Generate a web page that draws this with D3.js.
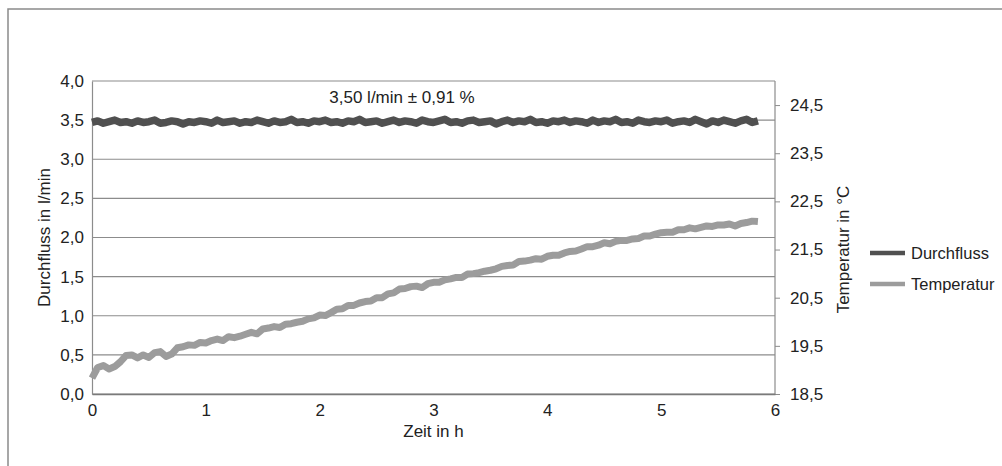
<!DOCTYPE html>
<html><head><meta charset="utf-8">
<script src="https://cdn.jsdelivr.net/npm/d3@7"></script>
<style>
html,body{margin:0;padding:0;background:#fff;}
svg{display:block;font-family:"Liberation Sans",Arial,sans-serif;}
</style></head>
<body>
<svg id="c" width="1002" height="466"></svg>
<script>
const timeH = [0,0.05,0.1,0.15,0.2,0.25,0.3,0.35,0.4,0.45,0.5,0.55,0.6,0.65,0.7,0.75,0.8,0.85,0.9,0.95,
1,1.05,1.1,1.15,1.2,1.25,1.3,1.35,1.4,1.45,1.5,1.55,1.6,1.65,1.7,1.75,1.8,1.85,1.9,1.95,
2,2.05,2.1,2.15,2.2,2.25,2.3,2.35,2.4,2.45,2.5,2.55,2.6,2.65,2.7,2.75,2.8,2.85,2.9,2.95,
3,3.05,3.1,3.15,3.2,3.25,3.3,3.35,3.4,3.45,3.5,3.55,3.6,3.65,3.7,3.75,3.8,3.85,3.9,3.95,
4,4.05,4.1,4.15,4.2,4.25,4.3,4.35,4.4,4.45,4.5,4.55,4.6,4.65,4.7,4.75,4.8,4.85,4.9,4.95,
5,5.05,5.1,5.15,5.2,5.25,5.3,5.35,5.4,5.45,5.5,5.55,5.6,5.65,5.7,5.75,5.8,5.85];

const durchfluss = [3.47,3.49,3.46,3.48,3.50,3.47,3.48,3.46,3.49,3.47,3.48,3.50,3.46,3.47,3.49,3.48,3.45,3.48,3.47,3.49,
3.48,3.46,3.50,3.47,3.48,3.49,3.46,3.48,3.47,3.50,3.48,3.46,3.49,3.47,3.48,3.51,3.47,3.48,3.46,3.49,
3.48,3.50,3.47,3.48,3.46,3.49,3.48,3.51,3.47,3.48,3.49,3.46,3.48,3.50,3.47,3.49,3.48,3.46,3.50,3.48,
3.47,3.49,3.51,3.47,3.48,3.46,3.49,3.50,3.47,3.48,3.49,3.45,3.48,3.50,3.47,3.49,3.48,3.51,3.47,3.48,
3.46,3.49,3.48,3.50,3.47,3.49,3.48,3.46,3.50,3.47,3.49,3.48,3.51,3.47,3.48,3.46,3.50,3.48,3.47,3.49,
3.48,3.50,3.46,3.48,3.49,3.47,3.51,3.48,3.45,3.49,3.47,3.50,3.48,3.46,3.49,3.51,3.47,3.49];

const temperatur = [18.83,19.05,19.09,19.02,19.07,19.17,19.30,19.31,19.25,19.31,19.26,19.36,19.38,19.28,19.33,19.46,19.48,19.52,19.51,19.57,
19.56,19.61,19.64,19.61,19.69,19.67,19.70,19.74,19.78,19.75,19.85,19.87,19.90,19.88,19.95,19.96,19.99,20.01,20.06,20.08,
20.14,20.13,20.19,20.26,20.27,20.34,20.34,20.39,20.42,20.43,20.50,20.50,20.58,20.60,20.68,20.69,20.73,20.74,20.71,20.79,
20.82,20.82,20.87,20.89,20.92,20.92,20.99,21.00,21.02,21.05,21.07,21.10,21.15,21.17,21.18,21.25,21.26,21.28,21.31,21.30,
21.36,21.38,21.38,21.43,21.46,21.47,21.51,21.56,21.56,21.59,21.64,21.62,21.67,21.69,21.69,21.72,21.73,21.78,21.78,21.82,
21.85,21.86,21.86,21.91,21.91,21.95,21.93,21.96,21.99,21.98,22.01,22.01,22.03,21.99,22.04,22.06,22.09,22.08];

const xTicks = [0,1,2,3,4,5,6];
const yLeftTicks = [0,0.5,1,1.5,2,2.5,3,3.5,4];
const yRightTicks = [18.5,19.5,20.5,21.5,22.5,23.5,24.5];
const seriesNames = ["Durchfluss","Temperatur"];
const seriesColors = ["#505050","#9c9c9c"];
const annotation = "3,50 l/min ± 0,91 %";

const FS = 17;
const svg = d3.select("#c");
const L = 92, R = 775, T = 81, B = 394;
const fmt = d => d3.format(".1f")(d).replace(".", ",");

// outer frame
svg.append("rect").attr("x",8).attr("y",9).attr("width",1100).attr("height",600)
  .attr("fill","none").attr("stroke","#8a8a8a").attr("stroke-width",1.5);

const x = d3.scaleLinear().domain([0,6]).range([L,R]);
const yL = d3.scaleLinear().domain([0,4]).range([B,T]);
const yR = d3.scaleLinear().domain([18.5,25]).range([B,T]);

// gridlines
svg.append("g").selectAll("line").data(yLeftTicks).join("line")
  .attr("x1",L).attr("x2",R).attr("y1",d=>yL(d)).attr("y2",d=>yL(d))
  .attr("stroke","#8c8c8c").attr("stroke-width",1.2);

function styleText(g){
  g.selectAll("text").attr("font-size",FS).attr("fill","#222")
   .style("font-family","'Liberation Sans',Arial,sans-serif");
}

// left axis
const gl = svg.append("g").attr("transform",`translate(${L},0)`)
  .call(d3.axisLeft(yL).tickValues(yLeftTicks).tickFormat(fmt).tickSize(0).tickPadding(8));
gl.select(".domain").attr("stroke","#8c8c8c").attr("stroke-width",1.2);
styleText(gl);

// right axis
const gr = svg.append("g").attr("transform",`translate(${R},0)`)
  .call(d3.axisRight(yR).tickValues(yRightTicks).tickFormat(fmt).tickSize(5).tickPadding(10));
gr.select(".domain").attr("stroke","#8c8c8c").attr("stroke-width",1.2).attr("d",`M0,${B}V${T}`);
gr.selectAll(".tick line").attr("stroke","#8c8c8c");
styleText(gr);

// bottom axis
const gb = svg.append("g").attr("transform",`translate(0,${B})`)
  .call(d3.axisBottom(x).tickValues(xTicks).tickFormat(d3.format("d")).tickSize(0).tickPadding(10));
gb.select(".domain").attr("stroke","#7a7a7a").attr("stroke-width",1.6);
styleText(gb);

// axis titles
svg.append("text").attr("transform",`translate(50,${(T+B)/2}) rotate(-90)`)
  .attr("text-anchor","middle").attr("font-size",FS).attr("fill","#222").text("Durchfluss in l/min");
svg.append("text").attr("transform",`translate(849,${(T+B)/2+12}) rotate(-90)`)
  .attr("text-anchor","middle").attr("font-size",FS).attr("fill","#222").text("Temperatur in °C");
svg.append("text").attr("x",x(3)).attr("y",437).attr("text-anchor","middle")
  .attr("font-size",FS).attr("fill","#222").text("Zeit in h");

// lines
const lineFlow = d3.line().x((d,i)=>x(timeH[i])).y(d=>yL(d));
const lineTemp = d3.line().x((d,i)=>x(timeH[i])).y(d=>yR(d));
svg.append("path").datum(temperatur).attr("d",lineTemp).attr("fill","none")
  .attr("stroke",seriesColors[1]).attr("stroke-width",7).attr("stroke-linejoin","round");
svg.append("path").datum(durchfluss).attr("d",lineFlow).attr("fill","none")
  .attr("stroke",seriesColors[0]).attr("stroke-width",7.5).attr("stroke-linejoin","round");

// annotation
svg.append("text").attr("x",402).attr("y",103).attr("text-anchor","middle")
  .attr("font-size",FS).attr("fill","#222").text(annotation);

// legend
const lg = svg.append("g");
seriesNames.forEach((n,i)=>{
  const yy = 253 + i*31;
  lg.append("line").attr("x1",870).attr("x2",905).attr("y1",yy).attr("y2",yy)
    .attr("stroke",seriesColors[i]).attr("stroke-width",4.5);
  lg.append("text").attr("x",911).attr("y",yy+6).attr("font-size",16.5).attr("fill","#222").text(n);
});
</script>
</body></html>
